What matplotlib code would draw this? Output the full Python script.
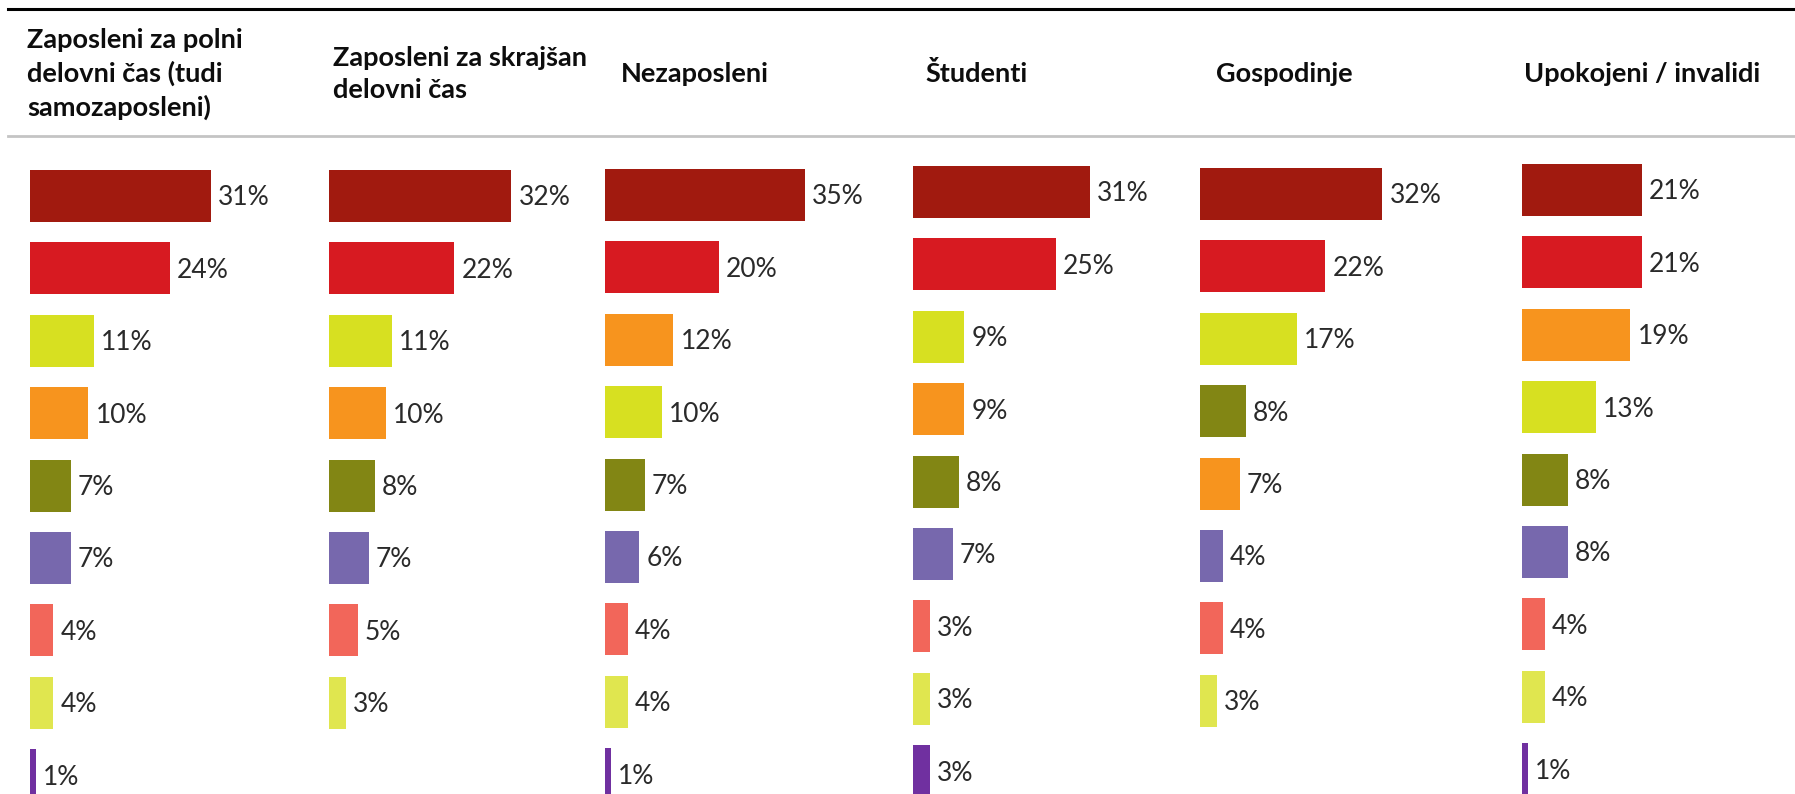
import matplotlib
matplotlib.use("Agg")
import matplotlib.pyplot as plt
from matplotlib.lines import Line2D

# ---------------- data ----------------
panel_titles = [
    "Zaposleni za polni\ndelovni čas (tudi\nsamozaposleni)",
    "Zaposleni za skrajšan\ndelovni čas",
    "Nezaposleni",
    "Študenti",
    "Gospodinje",
    "Upokojeni / invalidi",
]
# one list per (unnamed) category, values per panel; None = not shown
cat_darkred  = [31, 32, 35, 31, 32, 21]
cat_red      = [24, 22, 20, 25, 22, 21]
cat_lime     = [11, 11, 10, 9, 17, 13]
cat_orange   = [10, 10, 12, 9, 7, 19]
cat_olive    = [7, 8, 7, 8, 8, 8]
cat_lavender = [7, 7, 6, 7, 4, 8]
cat_salmon   = [4, 5, 4, 3, 4, 4]
cat_lightyel = [4, 3, 4, 3, 3, 4]
cat_purple   = [1, None, 1, 3, None, 1]

categories = [cat_darkred, cat_red, cat_lime, cat_orange, cat_olive,
              cat_lavender, cat_salmon, cat_lightyel, cat_purple]
cat_colors = ["#A11A0F", "#D71A21", "#D7E021", "#F7941E", "#828614",
              "#7768AD", "#F2665A", "#E0E64F", "#7030A0"]

# ---------------- layout ----------------
W, H = 1795, 794
fig = plt.figure(figsize=(W / 100, H / 100), dpi=100)
fig.patch.set_facecolor("white")

panel_x0 = [30, 329, 605, 913, 1200, 1522]       # px, left edge of bars
title_x = [27, 333, 621, 925, 1216, 1524]        # px, left edge of titles
panel_top = [170, 170, 169, 166, 168, 164]       # px, top of first bar
px_per_pct = [5.83, 5.7, 5.7, 5.7, 5.7, 5.7]
row_px = 72.4
bar_px = 52
ax_w_px = 270

title_font = "Lato"
label_font = "Lato"

for i in range(len(panel_titles)):
    vals = [(c[i], j) for j, c in enumerate(categories) if c[i] is not None]
    vals = sorted(vals, key=lambda t: -t[0])  # stable sort keeps category order for ties
    values = [v for v, _ in vals]
    colors = [cat_colors[j] for _, j in vals]

    first_center = panel_top[i] + bar_px / 2
    ax_top_px = first_center - row_px / 2
    ax_h_px = H - ax_top_px
    ax = fig.add_axes([panel_x0[i] / W, 0, ax_w_px / W, ax_h_px / H])
    ax.set_xlim(0, ax_w_px / px_per_pct[i])
    ax.set_ylim(-0.5 + ax_h_px / row_px, -0.5)
    ax.axis("off")

    ypos = list(range(len(values)))
    ax.barh(ypos, values, height=bar_px / row_px, color=colors,
            linewidth=0, clip_on=True)
    for y, v in zip(ypos, values):
        ax.annotate(f"{v}%", xy=(v, y), xytext=(5.2, -1.4),
                    textcoords="offset points", ha="left", va="center",
                    fontsize=19, family=label_font, color="#2a2a2a")

    fig.text(title_x[i] / W, 1 - 74 / H, panel_titles[i], ha="left",
             va="center", fontsize=19.5, fontweight="bold", family=title_font,
             color="#0d0d0d", linespacing=1.4)

# rules
fig.add_artist(Line2D([8 / W, 1], [1 - 8.5 / H, 1 - 8.5 / H],
                      transform=fig.transFigure, color="black", lw=2.2))
fig.add_artist(Line2D([8 / W, 1], [1 - 136 / H, 1 - 136 / H],
                      transform=fig.transFigure, color="#c4c4c4", lw=2.0))

fig.savefig("out.png", dpi=100, facecolor="white")
